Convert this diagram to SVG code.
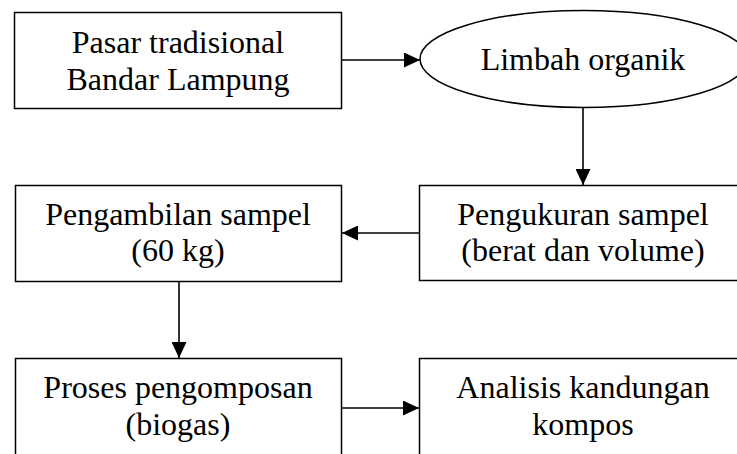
<svg xmlns="http://www.w3.org/2000/svg" width="737" height="454" viewBox="0 0 737 454">
<style>
.box{fill:#fff;stroke:#000;stroke-width:1.5}
.lbl{font-family:"Liberation Serif","Times New Roman",serif;font-size:32px;fill:#000;text-anchor:middle}
.con{fill:none;stroke:#000;stroke-width:1.6}
</style>
<defs>
<marker id="arr" markerUnits="userSpaceOnUse" markerWidth="16" markerHeight="15" refX="16" refY="7.5" orient="auto">
<path d="M0,0 L16,7.5 L0,15 z" fill="#000"/>
</marker>
</defs>
<rect width="737" height="454" fill="#fff"/>
<g id="n1">
<rect class="box" x="14.5" y="12.5" width="327" height="96"/>
<text class="lbl" x="178" y="53">Pasar tradisional</text>
<text class="lbl" x="178" y="90">Bandar Lampung</text>
</g>
<g id="n2">
<ellipse class="box" cx="584" cy="59" rx="164" ry="48.5"/>
<text class="lbl" x="583" y="70">Limbah organik</text>
</g>
<g id="n3">
<rect class="box" x="419.5" y="185.5" width="330" height="95"/>
<text class="lbl" x="583" y="225">Pengukuran sampel</text>
<text class="lbl" x="583" y="261">(berat dan volume)</text>
</g>
<g id="n4">
<rect class="box" x="15.5" y="185.5" width="326" height="96"/>
<text class="lbl" x="178" y="225">Pengambilan sampel</text>
<text class="lbl" x="178" y="261">(60 kg)</text>
</g>
<g id="n5">
<rect class="box" x="15.5" y="358.5" width="326" height="110"/>
<text class="lbl" x="178" y="398">Proses pengomposan</text>
<text class="lbl" x="178" y="435">(biogas)</text>
</g>
<g id="n6">
<rect class="box" x="419.5" y="358.5" width="330" height="110"/>
<text class="lbl" x="583" y="398">Analisis kandungan</text>
<text class="lbl" x="583" y="435">kompos</text>
</g>
<g id="connectors">
<line class="con" x1="341.5" y1="60" x2="420" y2="60" marker-end="url(#arr)"/>
<line class="con" x1="583" y1="107.5" x2="583" y2="185" marker-end="url(#arr)"/>
<line class="con" x1="419.5" y1="233" x2="342" y2="233" marker-end="url(#arr)"/>
<line class="con" x1="179" y1="281.5" x2="179" y2="358" marker-end="url(#arr)"/>
<line class="con" x1="341.5" y1="408" x2="419" y2="408" marker-end="url(#arr)"/>
</g>
</svg>
